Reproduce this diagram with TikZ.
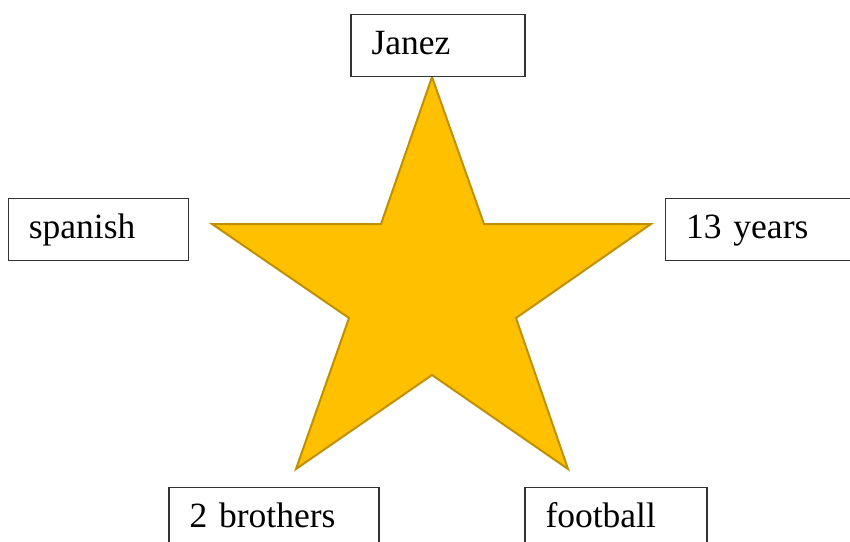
\documentclass[tikz,border=0pt]{standalone}
\usepackage{fontspec}
\setmainfont{Liberation Serif}
\usetikzlibrary{positioning}
\definecolor{cStarFill}{HTML}{FFC000}
\definecolor{cStarEdge}{HTML}{BF9000}
\definecolor{cBorder}{HTML}{333333}
\tikzset{
  starshape/.style={
    draw=cStarEdge, fill=cStarFill, line width=2pt, line join=miter
  },
  tagbox/.style={
    draw=cBorder, fill=white, line width=1.3pt,
    minimum height=62pt, inner xsep=20.5pt,
    text height=25pt, text depth=7pt, align=left,
    font=\fontsize{35.5}{42}\selectfont
  },
}
\begin{document}
\begin{tikzpicture}[x=1pt, y=-1pt]
\useasboundingbox (0,0) rectangle (850,541);

% ---- Star ----
\coordinate (tipN)  at (432,77);
\coordinate (innNE) at (484,224);
\coordinate (tipE)  at (651,224);
\coordinate (innE)  at (516,318);
\coordinate (tipSE) at (568,469);
\coordinate (innS)  at (432,375);
\coordinate (tipSW) at (296,469);
\coordinate (innW)  at (349,318);
\coordinate (tipW)  at (212,224);
\coordinate (innNW) at (381,224);

\draw[starshape] (tipN) -- (innNE) -- (tipE) -- (innE) -- (tipSE) -- (innS)
  -- (tipSW) -- (innW) -- (tipW) -- (innNW) -- cycle;

% ---- Labels round the star ----
\node[tagbox, text width=133pt, above=0pt of tipN, xshift=6pt] (name) {Janez};
\node[tagbox, text width=139pt, left=23pt of tipW, yshift=-5.5pt] (lang) {spanish};
\node[tagbox, text width=160pt, right=14pt of tipE, yshift=-5.5pt] (age) {13 years};
\node[tagbox, text width=169pt, below=18pt of tipSW, xshift=-22pt] (family) {2 brothers};
\node[tagbox, text width=141pt, below=18pt of tipSE, xshift=48pt] (hobby) {football};

\end{tikzpicture}
\end{document}
